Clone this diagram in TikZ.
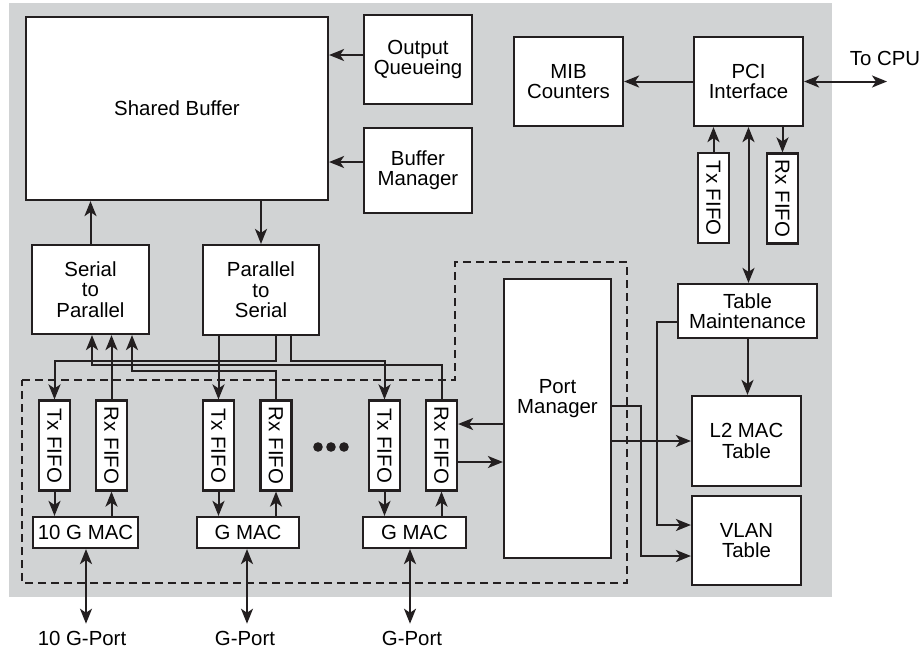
\documentclass[tikz,border=0pt]{standalone}
\usepackage{fontspec}
\setmainfont{Liberation Sans}
\usepackage{graphicx}
\usepackage{tikz}
\usetikzlibrary{arrows.meta,calc}
\definecolor{chipgray}{HTML}{D1D3D4}
\definecolor{inkdark}{HTML}{231F20}
\newcommand{\vlabel}[1]{\rotatebox{-90}{#1}}

\begin{document}
\begin{tikzpicture}[x=0.5pt, y=-0.5pt, >={Stealth[length=7.5pt,width=6pt,inset=2pt]},
  font=\fontsize{10.2}{10.2}\selectfont,
  blk/.style={draw=inkdark, fill=white, line width=1.1pt, inner sep=1pt, align=center},
  fifo/.style={blk, minimum width=15.5pt, minimum height=45pt},
  macbox/.style={blk, minimum height=15.5pt},
  wire/.style={draw=inkdark, line width=1pt}]

  \useasboundingbox (0,0) rectangle (922,649);

  % ================= CHIP BACKGROUND =================
  \fill[chipgray] (9,3) rectangle (832,597);

  % Port block (dashed outline)
  \draw[inkdark, line width=0.9pt, dash pattern=on 4pt off 2.5pt]
    (22,380) -- (455,380) -- (455,262) -- (627,262) -- (627,583) -- (22,583) -- cycle;

  % ================= BUFFER SECTION =================
  \node[blk, minimum width=151pt, minimum height=91.5pt] (sb) at (177,108.5) {Shared Buffer};
  \node[blk, minimum width=54pt, minimum height=44.5pt] (oq) at (418,59.5) {Output\\Queueing};
  \node[blk, minimum width=54pt, minimum height=42.5pt] (bm) at (418,170.5) {Buffer\\Manager};
  \node[blk, minimum width=58.5pt, minimum height=44.5pt] (s2p) at (90.5,289.5) {Serial\\to\\Parallel};
  \node[blk, minimum width=58pt, minimum height=45pt] (p2s) at (261,290) {Parallel\\to\\Serial};

  \draw[wire, ->] (oq.west) ++(0,-4.5) coordinate (oqa) -- (oqa -| sb.east);
  \draw[wire, ->] (bm.west) ++(0,-8.5) coordinate (bma) -- (bma -| sb.east);
  \draw[wire, ->] (s2p.north) -- (s2p.north |- sb.south);
  \draw[wire, ->] (p2s.north |- sb.south) -- (p2s.north);

  % ================= CPU SIDE =================
  \node[blk, minimum width=54.5pt, minimum height=44.5pt] (mib) at (568.5,81.5) {MIB\\Counters};
  \node[blk, minimum width=54.5pt, minimum height=44.5pt] (pci) at (748.5,81.5) {PCI\\Interface};
  \node[fifo] (ptx) at (713.5,198) {\vlabel{Tx FIFO}};
  \node[fifo] (prx) at (782.5,198.5) {\vlabel{Rx FIFO}};
  \node (cpu) at (885,58) {To CPU};
  \coordinate (cpuend) at (887,81.5);

  \draw[wire, ->] (pci.west) -- (mib.east);
  \draw[wire, <->] (pci.east) -- (cpuend);
  \draw[wire, ->] (ptx.north) -- (ptx.north |- pci.south);
  \draw[wire, ->] (prx.north |- pci.south) -- (prx.north);

  % ================= TABLES =================
  \node[blk, minimum width=69.5pt, minimum height=27pt] (tm) at (747.5,311) {Table\\Maintenance};
  \node[blk, minimum width=54.5pt, minimum height=45pt] (l2) at (746.5,441) {L2 MAC\\Table};
  \node[blk, minimum width=54.5pt, minimum height=44.5pt] (vlan) at (746.5,540.5) {VLAN\\Table};
  \node[blk, minimum width=53.5pt, minimum height=139.5pt,
        label={[align=center, yshift=10pt]center:Port\\Manager}] (pm) at (557.5,418.5) {};

  \draw[wire, <->] (pci.south) -- (pci.south |- tm.north);
  \draw[wire, ->] (tm.south) -- (tm.south |- l2.north);
  \draw[wire, ->] ([yshift=-5.5pt]tm.west) -- ++(-20,0) |- ([yshift=7.75pt]vlan.west);
  \draw[wire, ->] ([yshift=6.25pt]pm.east) -- ++(29,0) |- ([yshift=-7.75pt]vlan.west);
  \draw[wire, ->] (pm.east |- l2.west) -- (l2.west);

  % ================= PORTS =================
  \foreach \n/\tx/\rx in {1/54.5/111.5, 2/218.5/276, 3/384.5/441.5} {
    \node[fifo] (tx\n) at (\tx,445.5) {\vlabel{Tx FIFO}};
    \node[fifo] (rx\n) at (\rx,445.5) {\vlabel{Rx FIFO}};
  }
  \node[macbox, minimum width=52.5pt] (mac1) at (85.5,532.5) {10 G MAC};
  \node[macbox, minimum width=51pt] (mac2) at (248,532.5) {G MAC};
  \node[macbox, minimum width=51.5pt] (mac3) at (414.5,532.5) {G MAC};
  \node (port1) at (82,638) {10 G-Port};
  \node (port2) at (245,638) {G-Port};
  \node (port3) at (412,638) {G-Port};

  \foreach \n/\dx in {1/0.25, 2/-0.5, 3/-2.25} {
    \draw[wire, ->] (tx\n.south) -- (tx\n.south |- mac\n.north);
    \draw[wire, ->] (rx\n.south |- mac\n.north) -- (rx\n.south);
    \draw[wire, <->] ([xshift=\dx pt]mac\n.south) coordinate (mb\n) -- (mb\n |- port\n.north);
  }

  % dots between ports
  \foreach \x in {318,331,344}
    \fill[inkdark] (\x,447) circle (2.4pt);

  % Rx FIFO <-> Port Manager
  \draw[wire, <-] ([yshift=10.75pt]rx3.east) coordinate (rxa) -- (rxa -| pm.west);
  \draw[wire, ->] ([yshift=-8.25pt]rx3.east) coordinate (rxb) -- (rxb -| pm.west);

  % ================= BUS LINES =================
  \draw[wire, ->] ([xshift=7.5pt]p2s.south) -- ++(0,25) -| (tx1.north);
  \draw[wire, ->] (tx2.north |- p2s.south) -- (tx2.north);
  \draw[wire, ->] ([xshift=15pt]p2s.south) -- ++(0,25) -| (tx3.north);
  \draw[wire, ->] (rx1.north) -- (rx1.north |- s2p.south);
  \draw[wire, ->] (rx3.north) -- ++(0,-34) -| ([xshift=0.75pt]s2p.south);
  \draw[wire, ->] (rx2.north) -- ++(0,-28) -| ([xshift=20.75pt]s2p.south);

\end{tikzpicture}
\end{document}
